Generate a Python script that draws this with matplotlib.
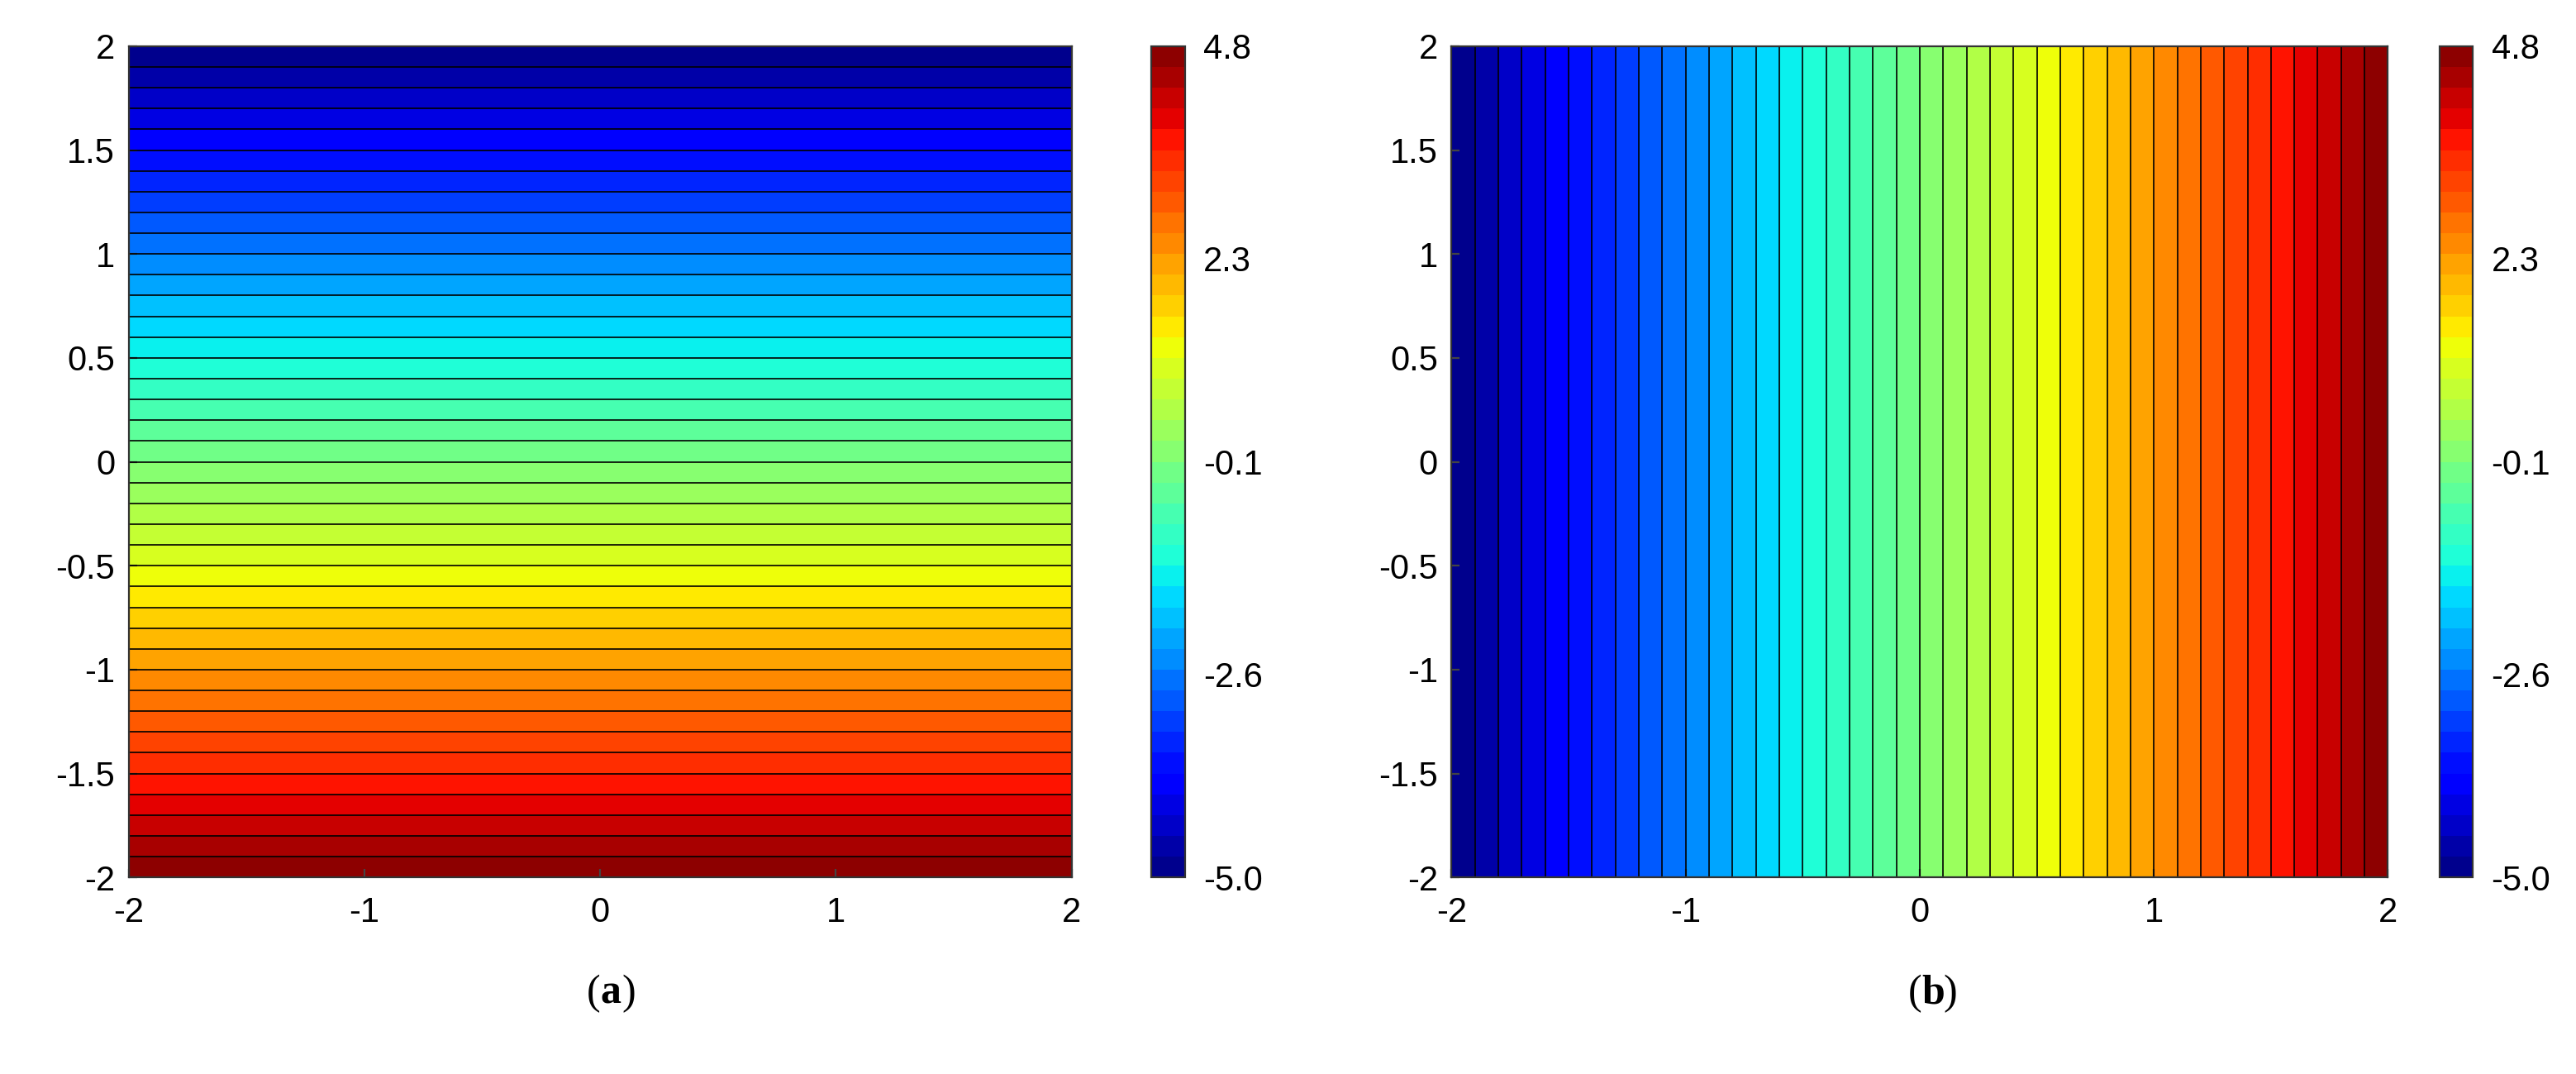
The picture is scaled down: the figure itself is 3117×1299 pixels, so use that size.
import numpy as np
import matplotlib.pyplot as plt

# field ranges and colorbar ticks
vmin = -5.0
vmax = 4.8
n_levels = 41
cbar_ticks = [-5.0, -2.6, -0.1, 2.3, 4.8]
axis_ticks = [-2, -1.5, -1, -0.5, 0, 0.5, 1, 1.5, 2]
x_ticks = [-2, -1, 0, 1, 2]
panel_labels = ['a', 'b']

x = np.linspace(-2, 2, 201)
y = np.linspace(-2, 2, 201)
X, Y = np.meshgrid(x, y)
mid = (vmin + vmax) / 2
half = (vmax - vmin) / 4
fields = [mid - half * Y, mid + half * X]

levels = np.linspace(vmin, vmax, n_levels)

plt.rcParams['font.family'] = ['Liberation Sans', 'DejaVu Sans']
plt.rcParams['axes.unicode_minus'] = False
fig = plt.figure(figsize=(15.585, 6.495), dpi=200)

ax_pos = [[0.05, 0.183, 0.366, 0.774], [0.5635, 0.183, 0.3635, 0.774]]
cb_pos = [[0.447, 0.183, 0.013, 0.774], [0.947, 0.183, 0.013, 0.774]]
lab_x = [0.233, 0.746]

for i in range(2):
    ax = fig.add_axes(ax_pos[i])
    cf = ax.contourf(X, Y, fields[i], levels=levels, cmap='jet', vmin=vmin, vmax=vmax)
    ax.contour(X, Y, fields[i], levels=levels, colors='k', linewidths=0.6, linestyles='solid')
    ax.set_xlim(-2, 2)
    ax.set_ylim(-2, 2)
    ax.set_xticks(x_ticks)
    ax.set_yticks(axis_ticks)
    ax.set_yticklabels(['-2', '-1.5', '-1', '-0.5', '0', '0.5', '1', '1.5', '2'])
    ax.tick_params(labelsize=15, direction='in', color='#444444')
    ax.tick_params(axis='x', pad=8)
    ax.tick_params(axis='y', pad=6)
    for s in ax.spines.values():
        s.set_color('#333333')
    cax = fig.add_axes(cb_pos[i])
    cb = fig.colorbar(cf, cax=cax, ticks=cbar_ticks)
    cb.ax.set_yticklabels(['%.1f' % t for t in cbar_ticks])
    cb.ax.tick_params(labelsize=15, direction='in', length=0, pad=8)
    cb.outline.set_edgecolor('#333333')
    fig.text(lab_x[i], 0.075, '(', fontsize=18, ha='right', va='center', family='Liberation Serif')
    fig.text(lab_x[i], 0.075, panel_labels[i], fontsize=18, ha='left', va='center',
             fontweight='bold', family='Liberation Serif')
    fig.text(lab_x[i] + 0.0085, 0.075, ')', fontsize=18, ha='left', va='center', family='Liberation Serif')

fig.savefig('out.png', dpi=200)
